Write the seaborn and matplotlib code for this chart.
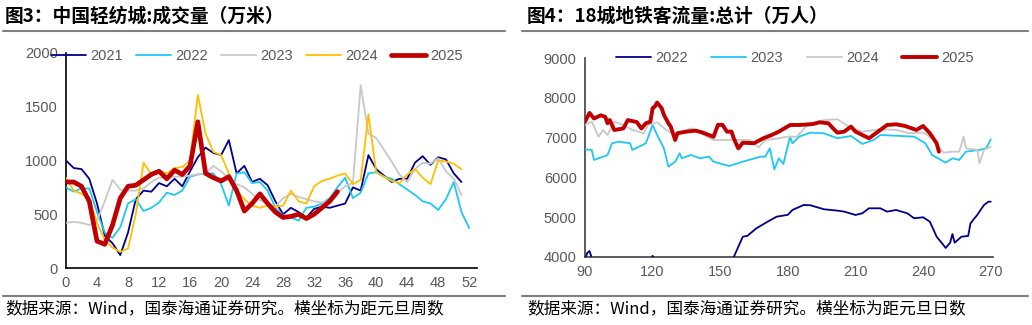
import numpy as np
import pandas as pd
import matplotlib
matplotlib.use("Agg")
import matplotlib.pyplot as plt
from matplotlib.lines import Line2D
import seaborn as sns

# ---------------- Left chart: weekly data (weeks since New Year) ----------------
weeks_2021 = list(range(0, 52))
vals_2021 = [1000, 930, 920, 830, 600, 300, 230, 120, 330, 640,
             720, 710, 790, 760, 830, 760, 900, 1030, 1120, 1070,
             1050, 1190, 880, 950, 800, 830, 770, 620, 500, 560,
             520, 470, 550, 570, 560, 580, 600, 750, 720, 1050,
             920, 860, 800, 830, 830, 980, 1040, 960, 1030, 1010,
             880, 800]
weeks_2022 = list(range(0, 53))
vals_2022 = [750, 710, 740, 740, 520, 330, 280, 380, 600, 640,
             530, 560, 610, 700, 680, 720, 850, 870, 880, 880,
             780, 580, 880, 890, 790, 800, 720, 560, 490, 470,
             440, 560, 570, 600, 650, 750, 840, 650, 700, 880,
             890, 850, 830, 780, 730, 680, 620, 600, 540, 640,
             800, 520, 370]
weeks_2023 = list(range(0, 52))
vals_2023 = [420, 430, 420, 400, 440, 620, 820, 730, 720, 720,
             740, 800, 840, 840, 850, 850, 860, 870, 880, 950,
             900, 830, 780, 750, 690, 630, 600, 570, 650, 690,
             660, 640, 620, 610, 630, 700, 760, 790, 1700, 1250,
             1210, 1100, 990, 870, 800, 920, 980, 970, 1020, 900,
             830, 680]
weeks_2024 = list(range(0, 52))
vals_2024 = [840, 720, 690, 650, 420, 260, 190, 150, 180, 500,
             980, 870, 900, 880, 930, 940, 1000, 1610, 1250, 1080,
             1050, 880, 720, 640, 580, 560, 580, 570, 580, 720,
             620, 600, 760, 810, 830, 860, 880, 780, 820, 1430,
             890, 850, 810, 790, 870, 920, 840, 780, 1000, 990,
             970, 920]
weeks_2025 = list(range(0, 36))
vals_2025 = [800, 800, 760, 620, 250, 220, 400, 650, 760, 770,
             820, 870, 900, 830, 910, 870, 950, 1360, 880, 840,
             810, 850, 720, 530, 600, 690, 600, 520, 470, 480,
             500, 460, 500, 560, 620, 710]

left_series = [("2021", weeks_2021, vals_2021), ("2022", weeks_2022, vals_2022),
               ("2023", weeks_2023, vals_2023), ("2024", weeks_2024, vals_2024),
               ("2025", weeks_2025, vals_2025)]
left_colors = {"2021": "#00008B", "2022": "#1EC8F5", "2023": "#C8C8C8",
               "2024": "#FFC000", "2025": "#C00000"}
left_xticks = list(range(0, 53, 4))
left_yticks = [0, 500, 1000, 1500, 2000]

# ---------------- Right chart: daily data (days since New Year) ----------------
days_2022 = [90, 91, 92, 93, 95, 110, 119, 120, 121, 130, 150, 156, 160, 162, 166,
             171, 175, 180, 182, 187, 190, 196, 202, 205, 210, 213, 216, 221, 224,
             228, 233, 236, 240, 243, 246, 249, 250, 252, 253, 254, 257, 260, 261,
             264, 267, 269, 270]
flow_2022 = [3950, 4100, 4150, 3980, 3600, 3500, 3900, 4030, 3900, 3400, 3600, 4000,
             4510, 4530, 4720, 4887, 5013, 5060, 5181, 5307, 5300, 5199, 5165, 5140,
             5056, 5098, 5224, 5224, 5140, 5181, 5098, 4973, 4998, 4887, 4510, 4302,
             4227, 4360, 4578, 4360, 4510, 4530, 4846, 5056, 5307, 5390, 5390]
days_2023 = [90, 93, 94, 100, 102, 105, 110, 111, 114, 117, 120, 122, 125, 127, 130,
             132, 133, 137, 141, 145, 147, 154, 160, 168, 170, 172, 174, 176, 178,
             181, 182, 185, 190, 196, 202, 208, 213, 218, 221, 236, 241, 244, 250,
             253, 256, 259, 265, 268, 270]
flow_2023 = [6706, 6690, 6438, 6563, 6857, 6898, 6857, 6690, 6773, 6857, 7317, 7066,
             6731, 6270, 6395, 6606, 6480, 6563, 6480, 6522, 6395, 6287, 6395, 6522,
             6522, 6731, 6203, 6480, 6337, 7024, 6857, 7024, 7125, 7108, 6983, 7041,
             6840, 6940, 7066, 7024, 6857, 6563, 6370, 6480, 6438, 6647, 6690, 6731,
             6958]
days_2024 = [90, 93, 96, 98, 100, 103, 107, 111, 116, 118, 122, 126, 130, 137, 147,
             155, 163, 167, 170, 176, 180, 184, 188, 196, 202, 207, 213, 221, 228,
             234, 240, 244, 249, 253, 256, 258, 259, 264, 265, 267, 270]
flow_2024 = [7320, 7400, 7024, 7190, 7066, 7400, 7317, 7192, 7108, 7317, 7385, 7192,
             7066, 7234, 6940, 6940, 6940, 6757, 6940, 6983, 7024, 7024, 7276, 7443,
             7460, 7276, 7150, 7209, 7192, 7108, 7125, 6983, 6622, 6647, 6647, 7024,
             6731, 6690, 6355, 6690, 6772]
days_2025 = [90, 92, 94, 97, 99, 100, 101, 103, 107, 109, 113, 115, 117, 119, 120,
             121, 122, 124, 125, 127, 128, 130, 131, 135, 139, 142, 147, 149, 151,
             153, 155, 156, 158, 160, 165, 169, 173, 176, 181, 185, 191, 194, 198,
             200, 202, 205, 208, 210, 216, 219, 224, 228, 232, 237, 240, 243, 246, 247]
flow_2025 = [7400, 7620, 7480, 7560, 7520, 7360, 7440, 7190, 7230, 7440, 7390, 7230,
             7360, 7400, 7740, 7780, 7880, 7740, 7570, 7360, 7280, 6940, 7110, 7150,
             7175, 7130, 7020, 7320, 7320, 7150, 7150, 6980, 6730, 6870, 6860, 6980,
             7070, 7150, 7317, 7317, 7340, 7385, 7360, 7234, 7124, 7150, 7276, 7150,
             6983, 7108, 7317, 7334, 7292, 7192, 7292, 7108, 6857, 6647]

right_series = [("2022", days_2022, flow_2022), ("2023", days_2023, flow_2023),
                ("2024", days_2024, flow_2024), ("2025", days_2025, flow_2025)]
right_colors = {"2022": "#00008B", "2023": "#1EC8F5", "2024": "#C8C8C8",
                "2025": "#C00000"}
right_xticks = [90, 120, 150, 180, 210, 240, 270]
right_yticks = [4000, 5000, 6000, 7000, 8000, 9000]

# ---------------- Texts ----------------
title_left = "图3：中国轻纺城:成交量（万米）"
title_right = "图4：18城地铁客流量:总计（万人）"
source_left = "数据来源：Wind，国泰海通证券研究。横坐标为距元旦周数"
source_right = "数据来源：Wind，国泰海通证券研究。横坐标为距元旦日数"

# ---------------- Drawing ----------------
sns.set_theme(style="white")
plt.rcParams["font.family"] = ["Liberation Sans", "DejaVu Sans"]
CJK = ["Noto Sans CJK SC", "DejaVu Sans"]
TICK_COLOR = "#595959"

fig = plt.figure(figsize=(10.32, 3.25), dpi=100)
W, H = 1032, 325

def fx(px):
    return px / W

def fy(py):
    return 1 - py / H

ax1 = fig.add_axes([fx(66), fy(268), fx(477) - fx(66), fy(53) - fy(268)])
ax2 = fig.add_axes([fx(585), fy(257), fx(993) - fx(585), fy(58) - fy(257)])

for name, x, y in left_series:
    df = pd.DataFrame({"x": x, "y": y})
    lw = 3.4 if name == "2025" else 1.3
    sns.lineplot(data=df, x="x", y="y", ax=ax1, color=left_colors[name],
                 linewidth=lw, label=name, zorder=5 if name == "2025" else 3)

for name, x, y in right_series:
    df = pd.DataFrame({"x": x, "y": y})
    lw = 2.8 if name == "2025" else 1.3
    sns.lineplot(data=df, x="x", y="y", ax=ax2, color=right_colors[name],
                 linewidth=lw, label=name, zorder=5 if name == "2025" else 3)

ax1.set_xlim(0, 53)
ax1.set_ylim(0, 2000)
ax1.set_xticks(left_xticks)
ax1.set_yticks(left_yticks)
ax2.set_xlim(90, 271)
ax2.set_ylim(4000, 9000)
ax2.set_xticks(right_xticks)
ax2.set_yticks(right_yticks)

for ax, spcol in ((ax1, "#000000"), (ax2, "#404040")):
    ax.set_xlabel("")
    ax.set_ylabel("")
    for s in ("top", "right"):
        ax.spines[s].set_visible(False)
    for s in ("left", "bottom"):
        ax.spines[s].set_color(spcol)
        ax.spines[s].set_linewidth(1.2)
    ax.tick_params(axis="both", which="major", direction="out", length=4,
                   width=1.0, color=spcol, labelsize=10.5, labelcolor=TICK_COLOR,
                   pad=2)
    ax.set_facecolor("none")
    ax.grid(False)

leg1 = ax1.legend(loc="center", bbox_to_anchor=(fx(257), fy(56)),
                  bbox_transform=fig.transFigure, ncol=5, frameon=False,
                  fontsize=10.5, handlelength=2.4, handletextpad=0.3,
                  columnspacing=0.9, borderaxespad=0)
for t in leg1.get_texts():
    t.set_color(TICK_COLOR)
leg2 = ax2.legend(loc="center", bbox_to_anchor=(fx(795), fy(58)),
                  bbox_transform=fig.transFigure, ncol=4, frameon=False,
                  fontsize=10.5, handlelength=2.4, handletextpad=0.3,
                  columnspacing=1.6, borderaxespad=0)
for t in leg2.get_texts():
    t.set_color(TICK_COLOR)

# titles
fig.text(fx(5), fy(16), title_left, family=CJK, fontsize=13.5, fontweight="bold",
         va="center", ha="left", color="#000000")
fig.text(fx(527), fy(16), title_right, family=CJK, fontsize=13.5, fontweight="bold",
         va="center", ha="left", color="#000000")
# separator lines
for x0, x1 in ((3, 505), (522, 1028)):
    fig.add_artist(Line2D([fx(x0), fx(x1)], [fy(31), fy(31)], color="#7F7F7F",
                          linewidth=1.5, transform=fig.transFigure))
    fig.add_artist(Line2D([fx(x0), fx(x1)], [fy(296), fy(296)], color="#7F7F7F",
                          linewidth=1.5, transform=fig.transFigure))
# sources
fig.text(fx(5), fy(309), source_left, family=CJK, fontsize=12,
         va="center", ha="left", color="#000000")
fig.text(fx(527), fy(309), source_right, family=CJK, fontsize=12,
         va="center", ha="left", color="#000000")

fig.savefig("out.png", dpi=100)
